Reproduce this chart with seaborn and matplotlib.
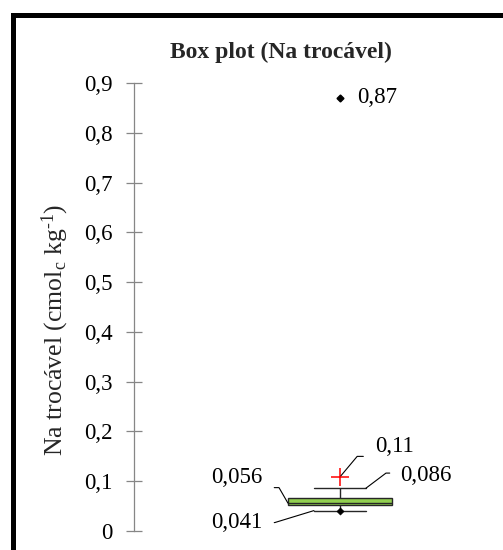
import numpy as np
import pandas as pd
import matplotlib
matplotlib.use("Agg")
import matplotlib.pyplot as plt
from matplotlib.lines import Line2D
import seaborn as sns

# ---- data (Na trocável, cmolc/kg), sample reconstructed from the chart ----
na_values = [0.041, 0.045, 0.049, 0.051, 0.052, 0.053, 0.055, 0.055,
             0.057, 0.058, 0.062, 0.065, 0.067, 0.072, 0.086, 0.87]
ytick_values = [0.0, 0.1, 0.2, 0.3, 0.4, 0.5, 0.6, 0.7, 0.8, 0.9]
ytick_labels = ["0", "0,1", "0,2", "0,3", "0,4", "0,5", "0,6", "0,7", "0,8", "0,9"]
label_max = "0,87"
label_mean = "0,11"
label_whisker_hi = "0,086"
label_median = "0,056"
label_min = "0,041"
title_text = "Box plot (Na trocável)"

df = pd.DataFrame({"Na": na_values})

sns.set_theme(style="white")
plt.rcParams["font.family"] = ["Liberation Serif", "DejaVu Serif"]
plt.rcParams["mathtext.fontset"] = "custom"
plt.rcParams["mathtext.rm"] = "Liberation Serif"
plt.rcParams["mathtext.it"] = "Liberation Serif:italic"

W, H, DPI = 503, 550, 100
fig = plt.figure(figsize=(W / DPI, H / DPI), dpi=DPI)
ax_left, ax_right, ax_top, ax_bot = 134, 490, 83, 531
ax = fig.add_axes([ax_left / W, (H - ax_bot) / H,
                   (ax_right - ax_left) / W, (ax_bot - ax_top) / H])

box_w = 104 / (ax_right - ax_left) * 2
sns.boxplot(data=df, y="Na", ax=ax, width=box_w, color="#92D050",
            linecolor="#262626", linewidth=1.0, saturation=1,
            showmeans=True,
            meanprops=dict(marker="+", markersize=13, markeredgecolor="#FF0000",
                           markerfacecolor="#FF0000", markeredgewidth=1.1),
            flierprops=dict(marker="D", markersize=3.5, markerfacecolor="black",
                            markeredgecolor="black"))

vals = np.array(na_values)
sns.scatterplot(x=[0], y=[vals.min()], marker="D", s=14, color="black",
                edgecolor="black", ax=ax, zorder=5)

fs = 16.5
ax.set_ylim(0, 0.9)
ax.set_xlim(-1.157, 0.843)
ax.set_yticks(ytick_values)
ax.set_yticklabels(ytick_labels)
ax.set_xticks([])
ax.set_xlabel("")
ax.set_ylabel("")
for s in ["top", "right", "bottom"]:
    ax.spines[s].set_visible(False)
ax.spines["left"].set_color("#868686")
ax.spines["left"].set_linewidth(0.9)
ax.tick_params(axis="y", direction="inout", length=11, width=0.9,
               color="#868686", pad=10, labelsize=fs, labelcolor="black", left=True)
ax.set_facecolor("none")

# cap positions from drawn artists
q1, med, q3 = np.percentile(vals, [25, 50, 75])
iqr = q3 - q1
hi = vals[vals <= q3 + 1.5 * iqr].max()
lo = vals[vals >= q1 - 1.5 * iqr].min()
cap_half = None
for ln in ax.lines:
    xd, yd = np.asarray(ln.get_xdata(), float), np.asarray(ln.get_ydata(), float)
    if len(xd) == 2 and np.allclose(yd, hi) and xd[0] != xd[1]:
        cap_half = abs(xd[1] - xd[0]) / 2
if cap_half is None:
    cap_half = box_w * 0.2

common = dict(textcoords="offset pixels", fontsize=fs, color="black")
lp = dict(arrowstyle="-", color="black", lw=0.8)

ax.annotate(label_max, xy=(0, vals.max()), xytext=(17, 0), ha="left", va="center",
            **common)
ax.annotate(label_mean, xy=(0, vals.mean()), xytext=(35, 30), ha="left", va="center",
            arrowprops=dict(connectionstyle="angle,angleA=0,angleB=50,rad=0",
                            relpos=(0, 0.05), shrinkA=6, shrinkB=1, **lp), **common)
ax.annotate(label_whisker_hi, xy=(cap_half, hi), xytext=(34, 13), ha="left", va="center",
            arrowprops=dict(connectionstyle="angle,angleA=0,angleB=37,rad=0",
                            relpos=(0, 0.6), shrinkA=5, shrinkB=0, **lp), **common)
ax.annotate(label_median, xy=(-box_w / 2, med), xytext=(-26, 26), ha="right", va="center",
            arrowprops=dict(connectionstyle="angle,angleA=0,angleB=120,rad=0",
                            relpos=(1, 0.0), shrinkA=6.5, shrinkB=0, **lp), **common)
ax.annotate(label_min, xy=(-cap_half, lo), xytext=(-52, -12), ha="right", va="center",
            arrowprops=dict(connectionstyle="angle,angleA=0,angleB=17,rad=0",
                            relpos=(1, 0.5), shrinkA=6.5, shrinkB=0, **lp), **common)

# y-axis label and title
fig.text(55 / W, 1 - 330 / H,
         r"Na trocável (cmol$_\mathregular{c}$ kg$^\mathregular{\text{-}1}$)",
         rotation=90, ha="center", va="center", fontsize=18.5)
fig.text(281 / W, 1 - 52 / H, title_text, ha="center", va="center",
         fontsize=17, fontweight="bold")

# outer frame (top and left edges visible)
fig.add_artist(Line2D([12.5 / W, 1.0], [1 - 14.5 / H, 1 - 14.5 / H],
                      transform=fig.transFigure, color="black", lw=3.6,
                      solid_capstyle="projecting"))
fig.add_artist(Line2D([12.5 / W, 12.5 / W], [1 - 14.5 / H, 0.0],
                      transform=fig.transFigure, color="black", lw=3.6,
                      solid_capstyle="projecting"))

fig.savefig("out.png", dpi=DPI, facecolor="white")
